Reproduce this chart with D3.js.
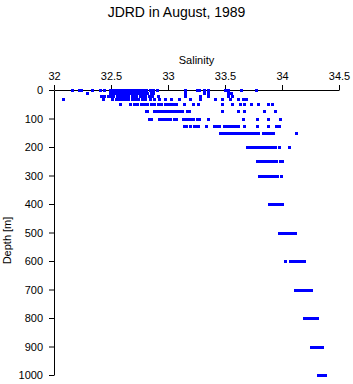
<!DOCTYPE html>
<html>
<head>
<meta charset="utf-8">
<script src="https://cdn.jsdelivr.net/npm/d3@7"></script>
<style>
  body { margin: 0; background: #fff; }
  svg { display: block; font-family: "Liberation Sans", Arial, sans-serif; }
</style>
</head>
<body>
<div id="chart"></div>
<script>
// Sampling depths [m]
var depthLevels = [0, 10, 20, 30, 50, 75, 100, 125, 150, 200, 250, 300, 400, 500, 600, 700, 800, 900, 1000];

// Salinity readings at each depth (same order as depthLevels)
var salinityByDepth = [
  [32.16, 32.22, 32.24, 32.33, 32.40, 32.44, 32.49, 32.51, 32.53, 32.55, 32.57, 32.59, 32.61, 32.63, 32.65, 32.67, 32.69, 32.71, 32.73, 32.75, 32.77, 32.79, 32.81, 32.84, 32.87, 32.90, 33.15, 33.25, 33.27, 33.32, 33.35, 33.50, 33.53, 33.64, 33.77],
  [32.29, 32.49, 32.52, 32.54, 32.56, 32.58, 32.60, 32.62, 32.64, 32.66, 32.68, 32.70, 32.72, 32.74, 32.76, 32.79, 32.82, 32.85, 32.87, 33.15, 33.32, 33.35, 33.53, 33.55],
  [32.41, 32.44, 32.47, 32.50, 32.52, 32.55, 32.57, 32.59, 32.61, 32.63, 32.65, 32.68, 32.70, 32.72, 32.75, 32.78, 32.80, 32.83, 32.86, 32.91, 33.15, 33.28, 33.35, 33.53, 33.56],
  [32.08, 32.43, 32.51, 32.54, 32.57, 32.60, 32.62, 32.65, 32.68, 32.71, 32.74, 32.77, 32.80, 32.84, 32.88, 32.92, 32.97, 33.03, 33.10, 33.19, 33.28, 33.41, 33.47, 33.54, 33.61, 33.66, 33.68],
  [32.58, 32.67, 32.70, 32.73, 32.76, 32.79, 32.82, 32.85, 32.88, 32.91, 32.94, 32.97, 33.00, 33.02, 33.04, 33.07, 33.14, 33.22, 33.26, 33.47, 33.56, 33.63, 33.67, 33.73, 33.79, 33.88, 33.91],
  [32.81, 32.82, 32.88, 32.90, 32.92, 32.94, 32.95, 32.97, 32.99, 33.01, 33.02, 33.04, 33.07, 33.10, 33.12, 33.17, 33.18, 33.47, 33.61, 33.67, 33.84, 33.94],
  [32.83, 32.85, 32.92, 32.94, 32.96, 32.98, 33.00, 33.02, 33.05, 33.07, 33.13, 33.15, 33.16, 33.18, 33.20, 33.22, 33.25, 33.27, 33.35, 33.66, 33.78, 33.88, 33.98],
  [33.14, 33.16, 33.19, 33.23, 33.24, 33.26, 33.33, 33.40, 33.42, 33.44, 33.45, 33.49, 33.51, 33.52, 33.54, 33.56, 33.58, 33.59, 33.61, 33.67, 33.78, 33.88, 33.95, 33.97],
  [33.46, 33.48, 33.50, 33.52, 33.53, 33.55, 33.57, 33.60, 33.62, 33.64, 33.66, 33.67, 33.69, 33.72, 33.73, 33.75, 33.77, 33.79, 33.83, 33.85, 33.88, 33.90, 33.92, 34.12],
  [33.69, 33.71, 33.73, 33.74, 33.76, 33.78, 33.80, 33.81, 33.83, 33.85, 33.88, 33.90, 33.92, 33.94, 33.97, 34.06],
  [33.78, 33.80, 33.81, 33.83, 33.85, 33.87, 33.88, 33.90, 33.92, 33.94, 33.95, 33.98, 34.00],
  [33.80, 33.81, 33.83, 33.85, 33.87, 33.88, 33.90, 33.92, 33.95, 33.96, 33.99],
  [33.89, 33.91, 33.93, 33.95, 33.97, 33.99, 34.00],
  [33.97, 33.99, 34.01, 34.03, 34.05, 34.07, 34.09, 34.11],
  [34.03, 34.07, 34.09, 34.11, 34.13, 34.15, 34.17, 34.19],
  [34.11, 34.13, 34.15, 34.17, 34.19, 34.21, 34.23, 34.25],
  [34.19, 34.21, 34.23, 34.25, 34.27, 34.29, 34.31],
  [34.25, 34.27, 34.29, 34.31, 34.33, 34.35],
  [34.32, 34.34, 34.36, 34.38]
];

var salinityTicks = [32, 32.5, 33, 33.5, 34, 34.5];
var depthTicks = [0, 100, 200, 300, 400, 500, 600, 700, 800, 900, 1000];

var w = 353;
var h = 384;

// one point per reading
var points = [];
depthLevels.forEach(function(dep, i) {
    salinityByDepth[i].forEach(function(s) {
        points.push({ salinity: s, depth: dep });
    });
});

var xScale = d3.scaleLinear().domain([32, 34.5]).range([54, 339]);
var yScale = d3.scaleLinear().domain([0, 1000]).range([90, 375]);

var svg = d3.select("#chart")
            .append("svg")
            .attr("width", w)
            .attr("height", h);

// title
svg.append("text")
   .attr("x", w / 2)
   .attr("y", 17)
   .attr("text-anchor", "middle")
   .attr("font-size", 14)
   .text("JDRD in August, 1989");

// x axis on top
var xAxis = d3.axisTop(xScale)
              .tickValues(salinityTicks)
              .tickFormat(d3.format(""))
              .tickSize(5)
              .tickSizeOuter(0)
              .tickPadding(5);

svg.append("g")
   .attr("transform", "translate(0,90)")
   .call(xAxis)
   .call(g => g.selectAll("text").attr("font-size", 11).attr("fill", "#000").attr("font-family", null))
   .call(g => g.selectAll("line,path").attr("stroke", "#000"));

svg.append("text")
   .attr("x", (54 + 339) / 2)
   .attr("y", 64)
   .attr("text-anchor", "middle")
   .attr("font-size", 11)
   .text("Salinity");

// depth axis on the left
var yAxis = d3.axisLeft(yScale)
              .tickValues(depthTicks)
              .tickFormat(d3.format("d"))
              .tickSize(5)
              .tickSizeOuter(0)
              .tickPadding(6);

svg.append("g")
   .attr("transform", "translate(54,0)")
   .call(yAxis)
   .call(g => g.selectAll("text").attr("font-size", 11).attr("fill", "#000").attr("font-family", null))
   .call(g => g.selectAll("line,path").attr("stroke", "#000"));

svg.append("text")
   .attr("transform", "translate(11," + ((90 + 375) / 2 + 8) + ") rotate(-90)")
   .attr("text-anchor", "middle")
   .attr("font-size", 11)
   .text("Depth [m]");

// data points
svg.append("g")
   .selectAll("rect")
   .data(points)
   .join("rect")
   .attr("x", d => Math.round(xScale(d.salinity)) - 1)
   .attr("y", d => Math.round(yScale(d.depth)) - 1)
   .attr("width", 3)
   .attr("height", 3)
   .attr("fill", "#0000ff");
</script>
</body>
</html>
